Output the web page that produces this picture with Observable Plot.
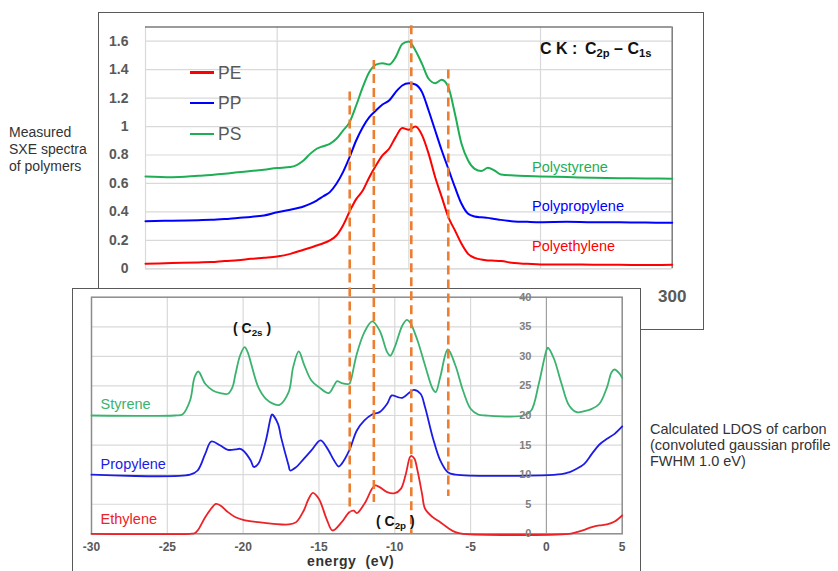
<!DOCTYPE html>
<html>
<head>
<meta charset="utf-8">
<script src="https://cdn.jsdelivr.net/npm/d3@7"></script>
<script src="https://cdn.jsdelivr.net/npm/@observablehq/plot@0.6"></script>
<style>
  html, body { margin: 0; padding: 0; background: white; }
  #fig { position: relative; width: 838px; height: 571px; overflow: hidden; background: white;
         font-family: "Liberation Sans", Arial, sans-serif; }
  .abs { position: absolute; white-space: nowrap; }
  .box { position: absolute; box-sizing: border-box; border: 1.5px solid #595959; background: white; }
  sub { font-size: 0.7em; vertical-align: -0.3em; line-height: 0; }
</style>
</head>
<body>
<div id="fig"></div>
<script>
// ---------- Measured SXE spectra (top panel) ----------
const topEnergy = [260,262,264,265,266,267,268,269,270,271,272,272.5,273,273.5,274,274.5,275,275.5,276,276.5,277,277.5,278,278.5,279,279.5,280,280.5,281,281.5,282,282.5,283,283.5,284,284.5,285,285.5,286,286.5,287,288,289,290,292,294,296,298,300];
const pePE = [0.035,0.04,0.045,0.047,0.055,0.06,0.07,0.078,0.087,0.105,0.134,0.148,0.164,0.18,0.2,0.234,0.305,0.403,0.49,0.55,0.644,0.726,0.797,0.844,0.926,0.99,0.978,1.0,0.94,0.81,0.644,0.504,0.363,0.27,0.176,0.105,0.077,0.065,0.059,0.057,0.054,0.04,0.035,0.03,0.03,0.029,0.028,0.027,0.028];
const ppPP = [0.335,0.338,0.342,0.344,0.35,0.358,0.365,0.375,0.398,0.415,0.438,0.456,0.48,0.51,0.539,0.598,0.68,0.785,0.902,0.996,1.066,1.113,1.155,1.183,1.242,1.289,1.305,1.296,1.242,1.113,0.972,0.832,0.703,0.574,0.457,0.387,0.368,0.362,0.358,0.35,0.344,0.333,0.33,0.328,0.33,0.327,0.328,0.325,0.323];
const psPS = [0.649,0.644,0.654,0.66,0.668,0.678,0.687,0.697,0.708,0.715,0.762,0.808,0.844,0.862,0.879,0.914,0.972,1.031,1.148,1.277,1.383,1.436,1.446,1.436,1.488,1.58,1.598,1.535,1.441,1.336,1.305,1.329,1.277,1.09,0.879,0.762,0.703,0.687,0.71,0.691,0.663,0.656,0.652,0.649,0.645,0.64,0.637,0.635,0.633];
const topYTicks = [0,0.2,0.4,0.6,0.8,1,1.2,1.4,1.6];
const topYTickLabels = ["0","0.2","0.4","0.6","0.8","1","1.2","1.4","1.6"];
const topXTicks = [260,270,280,290,300];
const topXLabelTicks = [300];          // the only x tick label not hidden by the lower panel
const topXTickLabels = ["300"];
const topSeriesNames = ["Polyethylene","Polypropylene","Polystyrene"];
const topLabelE = [289.36,289.36,289.36];
const topLabelV = [0.157,0.44,0.714];
const legendNames = ["PE","PP","PS"];

// ---------- Calculated LDOS (bottom panel) ----------
const ethE = [-30,-23.5,-23.2,-23,-22.5,-22,-21.8,-21.5,-21,-20.5,-20,-19,-18,-17,-16.5,-16,-15.7,-15.4,-15,-14.5,-14.1,-13.5,-13,-12.7,-12.5,-12,-11.5,-11.3,-11,-10.5,-10,-9.6,-9.3,-9,-8.9,-8.7,-8.5,-8.2,-8,-7.5,-7,-6.5,-6,-5.5,1.5,2,2.5,3,3.5,4,4.5,5];
const ethV = [0,0,0.1,0.56,2.8,4.6,5.05,4.8,3.66,2.8,2.37,1.97,1.69,1.58,1.97,3.94,5.8,6.93,5.9,2.54,0.56,1.97,3.66,3.9,3.5,5.07,7.6,8.17,7.89,7.04,6.87,7.6,9.8,12.96,13.19,12.68,10.7,6.76,4.23,2.82,1.97,1.01,0.28,0,0,0.28,0.68,1.13,1.41,1.58,2.08,3.1];
const propE = [-30,-23.5,-23,-22.5,-22.1,-21.5,-21,-20.5,-20.2,-20,-19.5,-19.3,-19,-18.5,-18.2,-18.1,-17.7,-17.5,-17,-16.9,-16.5,-16,-15.5,-14.9,-14.5,-14,-13.7,-13.5,-13,-12.5,-12,-11.5,-11,-10.5,-10.2,-9.8,-9.5,-9,-8.74,-8.3,-8,-7.5,-7,-6.5,-6,1,1.5,2,2.5,3,3.5,4,4.5,5];
const propV = [10,10,10.7,13.5,15.6,14.93,14.2,14.26,14.37,14.09,12.4,11.3,11.83,15.78,19.44,20.17,18.6,16.34,11.55,10.7,11.27,12.68,14.09,15.78,14.65,12.4,11.38,11.83,14.09,17.47,19.16,20.17,20.57,21.98,23.39,23.1,22.99,23.95,24.34,23.67,21.4,16.34,12.4,10.4,10,10.1,10.4,10.99,11.83,13.52,15.1,16.06,16.9,18.15];
const styE = [-30,-24.5,-24,-23.5,-23.2,-22.96,-22.5,-22,-21.5,-21,-20.7,-20.5,-20.2,-19.9,-19.7,-19.5,-19,-18.5,-18,-17.6,-17,-16.7,-16.33,-16,-15.5,-15,-14.35,-14,-13.8,-13.5,-13,-12.9,-12.5,-12,-11.49,-11,-10.5,-10.3,-10,-9.5,-9.2,-9,-8.5,-8,-7.5,-7.3,-7,-6.5,-6,-5.5,-5,-4.5,-4,-1.5,-1,-0.5,0,0.1,0.5,1,1.5,2,2.5,3,3.5,4,4.3,4.5,4.8,5];
const styV = [20,20,20.17,22.54,26.49,27.44,25.36,24.23,23.78,23.67,24.8,27.05,30.15,31.56,30.71,29.02,24.8,22.82,21.98,21.81,23.95,28.18,30.83,28.74,25.92,24.8,23.78,25.08,25.8,25.47,25.36,25.92,30.43,34.09,35.9,34.38,30.71,30.1,31.56,35.22,36.18,35.78,32.69,28.46,24.51,23.95,26.49,31.16,28.46,24.23,21.13,20.17,20,20,20.85,25.36,30.99,31.45,29.59,25.36,21.69,20.56,20.73,21.13,21.98,24.8,27.33,27.78,27.16,26.37];
const botYTicks = [0,5,10,15,20,25,30,35,40];
const botYTickLabels = ["0","5","10","15","20","25","30","35","40"];
const botXTicks = [-30,-25,-20,-15,-10,-5,0,5];
const botXTickLabels = ["-30","-25","-20","-15","-10","-5","0","5"];
const botSeriesNames = ["Ethylene","Propylene","Styrene"];
const botLabelE = [-29.4,-29.4,-29.4];
const botLabelV = [2.46,11.8,21.8];

// dashed guide lines (energy in LDOS eV, extent in LDOS units, spanning both panels)
const dashE = [-12.97,-11.38,-8.91,-6.47];
const dashTop = [74.7,80.0,85.9,78.4];
const dashBottom = [3.6,5.3,0,6.3];

// ---------- build ----------
const W = 838, H = 571;
const FONT = '"Liberation Sans", Arial, sans-serif';
const topColors = ["#ff0000","#0000ff","#1fae55"];
const botColors = ["#ec2227","#1c1ce6","#3bb26e"];
const GRID = "#d9d9d9";

const zipRows = (xs, ys) => xs.map((x, i) => ({x, y: ys[i]}));
const topSeries = [pePE, ppPP, psPS].map(v => zipRows(topEnergy, v));
const botSeries = [zipRows(ethE, ethV), zipRows(propE, propV), zipRows(styE, styV)];

const topPlot = Plot.plot({
  width: W, height: H,
  marginLeft: 145, marginRight: 166.3, marginTop: 26.5, marginBottom: 302.7,
  x: {domain: [260, 300], axis: null},
  y: {domain: [0, 1.7], axis: null},
  style: {background: "transparent", fontFamily: FONT, overflow: "visible"},
  marks: [
    Plot.ruleY(topYTicks.slice(1), {stroke: GRID, strokeWidth: 1.2}),
    Plot.ruleX(topXTicks.slice(1, -1), {stroke: GRID, strokeWidth: 1.2}),
    Plot.ruleX([260], {stroke: GRID, strokeWidth: 1.2}),
    Plot.ruleY([0], {stroke: "#d0d0d0", strokeWidth: 1.2}),
    Plot.ruleY([1.7], {stroke: "#7a7a7a", strokeWidth: 1.5}),
    Plot.ruleX([300], {stroke: "#7a7a7a", strokeWidth: 1.5}),
    ...topSeries.map((rows, i) => Plot.line(rows, {x: "x", y: "y", stroke: topColors[i], strokeWidth: 2, curve: "monotone-x"})),
    Plot.text(topYTicks, {x: 260, y: d => d, text: (d, i) => topYTickLabels[i], dx: -17, textAnchor: "end",
      fontSize: 14, fontWeight: "bold", fill: "#595959"}),
    Plot.text(topXLabelTicks, {x: d => d, y: 0, text: (d, i) => topXTickLabels[i], dy: 28,
      fontSize: 17, fontWeight: "bold", fill: "#595959"}),
    Plot.text(topSeriesNames, {x: (d, i) => topLabelE[i], y: (d, i) => topLabelV[i], text: d => d,
      textAnchor: "start", fontSize: 14.5, fill: (d, i) => topColors[i]})
  ]
});

const botPlot = Plot.plot({
  width: W, height: H,
  marginLeft: 91, marginRight: 216.3, marginTop: 296.7, marginBottom: 37.7,
  x: {domain: [-30, 5], axis: null},
  y: {domain: [0, 40], axis: null},
  style: {background: "transparent", fontFamily: FONT, overflow: "visible"},
  marks: [
    Plot.ruleY(botYTicks.slice(1, -1), {stroke: GRID, strokeWidth: 1.2}),
    Plot.ruleX(botXTicks.filter(d => d > -30 && d < 0), {stroke: GRID, strokeWidth: 1.2}),
    Plot.ruleX([0], {stroke: "#a0a0a0", strokeWidth: 1.2}),
    Plot.frame({stroke: "#8c8c8c", strokeWidth: 1.5}),
    ...botSeries.map((rows, i) => Plot.line(rows, {x: "x", y: "y", stroke: botColors[i], strokeWidth: 1.8, curve: "catmull-rom"})),
    Plot.text(botYTicks, {x: 0, y: d => d, text: (d, i) => botYTickLabels[i], dx: -15, textAnchor: "end",
      fontSize: 11, fontWeight: "bold", fill: "#808080"}),
    Plot.text(botXTicks, {x: d => d, y: 0, text: (d, i) => botXTickLabels[i], dy: 13.5,
      fontSize: 12, fontWeight: "bold", fill: "#595959"}),
    Plot.text(botSeriesNames, {x: (d, i) => botLabelE[i], y: (d, i) => botLabelV[i], text: d => d,
      textAnchor: "start", fontSize: 14.5, fill: (d, i) => botColors[i]}),
    Plot.ruleX(dashE, {x: d => d, y1: (d, i) => dashTop[i], y2: (d, i) => dashBottom[i],
      stroke: "#ed7d31", strokeWidth: 2.6, strokeDasharray: "9,5"})
  ]
});

const fig = document.getElementById("fig");
function addBox(l, t, w, h) {
  const d = document.createElement("div");
  d.className = "box";
  Object.assign(d.style, {left: l + "px", top: t + "px", width: w + "px", height: h + "px"});
  fig.appendChild(d);
}
function addSvg(svg) {
  Object.assign(svg.style, {position: "absolute", left: "0px", top: "0px", background: "transparent"});
  fig.appendChild(svg);
}
function addText(html, l, t, css) {
  const d = document.createElement("div");
  d.className = "abs";
  d.innerHTML = html;
  Object.assign(d.style, {left: l + "px", top: t + "px"}, css || {});
  fig.appendChild(d);
  return d;
}

addBox(97.5, 11.5, 606.5, 318.5);
addSvg(topPlot);
addBox(72, 287.5, 568.5, 320);
addSvg(botPlot);

// legend of the top panel
const legendY = [72.5, 103, 134];
legendNames.forEach((name, i) => {
  const line = document.createElement("div");
  Object.assign(line.style, {position: "absolute", left: "190px", top: (legendY[i] - 1.25) + "px",
    width: "24px", height: "2.5px", background: topColors[i]});
  fig.appendChild(line);
  addText(name, 218, legendY[i] - 9, {fontSize: "17.5px", lineHeight: "18px", color: "#595959"});
});

// titles and notes
addText('C K :', 540, 41, {fontSize: "16px", lineHeight: "16px", fontWeight: "bold", color: "#111"});
addText('C<sub>2p</sub> \u2013 C<sub>1s</sub>', 585, 41, {fontSize: "16px", lineHeight: "16px", fontWeight: "bold", color: "#111"});
addText('( C<sub>2s</sub> )', 233, 320.5, {fontSize: "14px", lineHeight: "15px", fontWeight: "bold", color: "#111"});
addText('( C<sub>2p</sub> )', 376, 514, {fontSize: "14px", lineHeight: "15px", fontWeight: "bold", color: "#111"});
addText('energy&nbsp; (eV)', 307, 553.5, {fontSize: "14px", lineHeight: "14px", fontWeight: "bold", color: "#333", letterSpacing: "0.6px"});
addText('Measured<br>SXE spectra<br>of polymers', 9, 124, {fontSize: "14px", lineHeight: "17px", color: "#333"});
addText('Calculated LDOS of carbon<br>(convoluted gaussian profile<br>FWHM 1.0 eV)', 650, 421,
  {fontSize: "14.5px", lineHeight: "16px", color: "#333"});
</script>
</body>
</html>
